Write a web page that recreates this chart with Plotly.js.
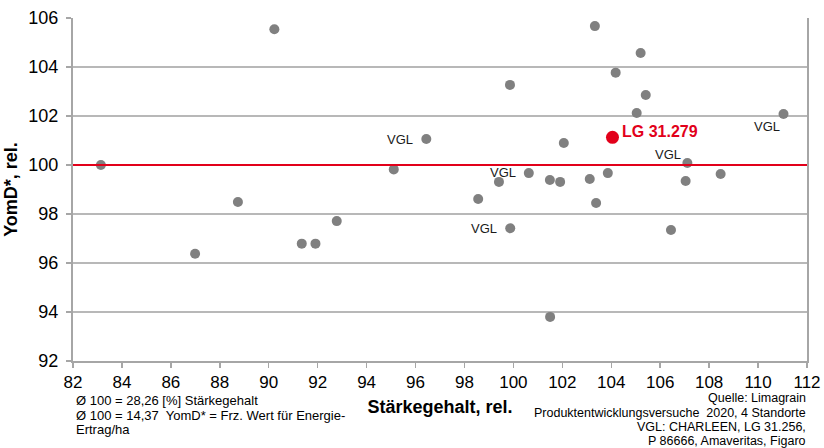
<!DOCTYPE html>
<html>
<head>
<meta charset="utf-8">
<script src="https://cdn.plot.ly/plotly-3.0.1.min.js"></script>
<style>
  html, body { margin: 0; padding: 0; background: #ffffff; }
  #chart { width: 824px; height: 448px; }
</style>
</head>
<body>
<div id="chart"></div>
<script>
// ---- data ----
const starchRel = [83.14, 90.23, 95.11, 88.74, 86.99, 91.35, 91.91, 92.78,
  103.33, 105.20, 104.18, 99.86, 105.41, 105.04, 111.04, 96.44, 102.06,
  107.11, 100.63, 99.41, 101.49, 101.91, 103.12, 103.86, 107.04, 108.47,
  98.56, 103.38, 99.87, 106.44, 101.50];
const yieldRel = [100.00, 105.54, 99.82, 98.49, 96.38, 96.79, 96.79, 97.71,
  105.67, 104.57, 103.77, 103.27, 102.86, 102.12, 102.08, 101.06, 100.90,
  100.08, 99.67, 99.31, 99.39, 99.31, 99.43, 99.67, 99.35, 99.63,
  98.61, 98.45, 97.42, 97.35, 93.80];

const highlightName = 'LG 31.279';
const highlightX = [104.05];
const highlightY = [101.13];

const vglLabel = 'VGL';
const vglX = [96.44, 111.04, 107.11, 99.41, 99.87];
const vglY = [101.06, 102.08, 100.08, 99.31, 97.42];

const refLevel = 100;
const xTickVals = [82, 84, 86, 88, 90, 92, 94, 96, 98, 100, 102, 104, 106, 108, 110, 112];
const yTickVals = [92, 94, 96, 98, 100, 102, 104, 106];

const xTitle = 'Stärkegehalt, rel.';
const yTitle = 'YomD*, rel.';
const noteLeft = ['Ø 100 = 28,26 [%] Stärkegehalt',
  'Ø 100 = 14,37  YomD* = Frz. Wert für Energie-',
  'Ertrag/ha'];
const noteRight = ['Quelle: Limagrain',
  'Produktentwicklungsversuche  2020, 4 Standorte',
  'VGL: CHARLEEN, LG 31.256,',
  'P 86666, Amaveritas, Figaro'];

// ---- styling / layout ----
const FONT = 'Liberation Sans, Arial, sans-serif';
const RED = '#e2001a';
const GREY_PT = '#808080';
const W = 824, H = 448;
const M = { l: 73, r: 17, t: 18, b: 87 };
const plotW = W - M.l - M.r, plotH = H - M.t - M.b;
const px2x = px => (px - M.l) / plotW;
const py2y = py => (H - M.b - py) / plotH;

// VGL label offsets (pixel shifts relative to each point)
const vglStyle = [
  { xanchor: 'right', xshift: -11, yshift: 0 },
  { xanchor: 'right', xshift: -2, yshift: -12 },
  { xanchor: 'right', xshift: -4, yshift: 9 },
  { xanchor: 'center', xshift: 4, yshift: 9 },
  { xanchor: 'right', xshift: -11, yshift: 0 }
];

const annotations = [];
vglX.forEach((x, i) => {
  annotations.push({
    x: x, y: vglY[i], xref: 'x', yref: 'y', text: vglLabel, showarrow: false,
    xanchor: vglStyle[i].xanchor, yanchor: 'middle',
    xshift: vglStyle[i].xshift, yshift: vglStyle[i].yshift,
    font: { family: FONT, size: 13, color: '#1a1a1a' }
  });
});
annotations.push({
  x: highlightX[0], y: highlightY[0], xref: 'x', yref: 'y',
  text: '<b>' + highlightName + '</b>', showarrow: false,
  xanchor: 'left', yanchor: 'middle', xshift: 8, yshift: 6,
  font: { family: FONT, size: 16, color: RED }
});
const leftLineY = [400, 415, 430];
noteLeft.forEach((t, i) => {
  annotations.push({
    x: px2x(75), y: py2y(leftLineY[i]), xref: 'paper', yref: 'paper',
    text: t, showarrow: false, xanchor: 'left', yanchor: 'middle', borderpad: 0,
    font: { family: FONT, size: 13, color: '#000' }
  });
});
const rightLineY = [398.5, 412.5, 426.5, 440.5];
noteRight.forEach((t, i) => {
  annotations.push({
    x: px2x(807), y: py2y(rightLineY[i]), xref: 'paper', yref: 'paper',
    text: t, showarrow: false, xanchor: 'right', yanchor: 'middle', borderpad: 0,
    font: { family: FONT, size: 12.5, color: '#000' }
  });
});

const traces = [
  {
    type: 'scatter', mode: 'markers', x: starchRel, y: yieldRel,
    marker: { size: 10, color: GREY_PT }, hoverinfo: 'x+y', showlegend: false
  },
  {
    type: 'scatter', mode: 'markers', x: highlightX, y: highlightY, name: highlightName,
    marker: { size: 13, color: RED }, showlegend: false
  }
];

const layout = {
  width: W, height: H,
  margin: M,
  paper_bgcolor: '#ffffff', plot_bgcolor: '#ffffff',
  font: { family: FONT, color: '#000' },
  showlegend: false,
  xaxis: {
    range: [82, 112], tickvals: xTickVals, ticktext: xTickVals.map(String),
    showgrid: false, zeroline: false,
    showline: true, linecolor: '#a6a6a6', linewidth: 2,
    ticks: 'outside', ticklen: 5, tickwidth: 1.5, tickcolor: '#a6a6a6',
    tickfont: { family: FONT, size: 17, color: '#000' },
    title: { text: '<b>' + xTitle + '</b>', font: { family: FONT, size: 18, color: '#000' }, standoff: 9 }
  },
  yaxis: {
    range: [92, 106], tickvals: yTickVals, ticktext: yTickVals.map(String),
    showgrid: true, gridcolor: '#b8b8b8', gridwidth: 1.5, zeroline: false,
    showline: true, linecolor: '#a6a6a6', linewidth: 2, mirror: true,
    ticks: 'outside', ticklen: 5, tickwidth: 1.5, tickcolor: '#a6a6a6',
    ticklabelstandoff: 4,
    tickfont: { family: FONT, size: 18, color: '#000' },
    title: { text: '<b>' + yTitle + '</b>', font: { family: FONT, size: 18, color: '#000' }, standoff: 6 }
  },
  shapes: [{
    type: 'line', xref: 'paper', x0: 0, x1: 1, yref: 'y', y0: refLevel, y1: refLevel,
    line: { color: RED, width: 2 }, layer: 'above'
  }],
  annotations: annotations
};

Plotly.newPlot('chart', traces, layout, { displayModeBar: false, staticPlot: true });
</script>
</body>
</html>
